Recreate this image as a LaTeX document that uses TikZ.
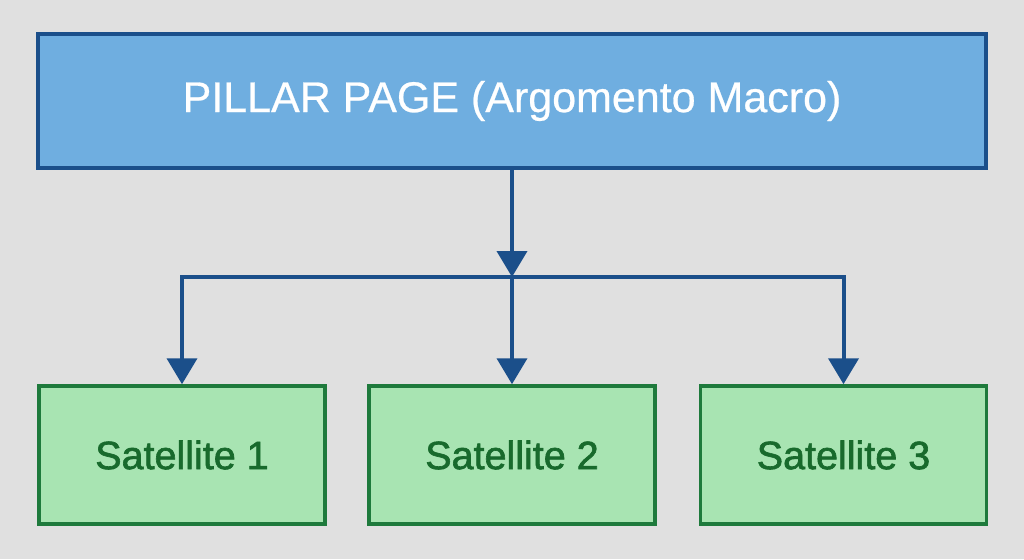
\documentclass[tikz,border=0pt]{standalone}
\usepackage{fontspec}
\setmainfont{Liberation Sans}
\newfontfamily\satfont[FakeBold=1.6]{Liberation Sans}
\newfontfamily\pilfont[FakeBold=0.6]{Liberation Sans}
\usetikzlibrary{arrows.meta}
\definecolor{bgc}{HTML}{E0E0E0}
\definecolor{pfill}{HTML}{6FAEE0}
\definecolor{pline}{HTML}{1B4F8A}
\definecolor{sfill}{HTML}{A8E4B2}
\definecolor{sline}{HTML}{1E7A3C}
\definecolor{stext}{HTML}{186A2C}
\tikzset{
  pillarbox/.style={draw=pline, fill=pfill, line width=4pt, minimum width=948pt, minimum height=134pt, inner sep=0pt, text=white, font=\pilfont\fontsize{43}{43}\selectfont},
  satbox/.style={draw=sline, fill=sfill, line width=3.5pt, minimum width=286pt, minimum height=138pt, inner sep=0pt, text=stext, font=\satfont\fontsize{39.5}{39.5}\selectfont},
  conn/.style={draw=pline, line width=4pt, -{Triangle[width=30pt,length=26pt]}},
}
\begin{document}
\begin{tikzpicture}[x=1pt,y=-1pt]
\fill[bgc] (0,0) rectangle (1024,559);
\useasboundingbox (0,0) rectangle (1024,559);
\node[pillarbox] (pillar) at (512,101) {PILLAR PAGE (Argomento Macro)};
\node[satbox] (s1) at (182,455) {Satellite 1};
\node[satbox] (s2) at (512,455) {Satellite 2};
\node[satbox] (s3) at (843.5,455) {Satellite 3};
\coordinate (jn) at (512,277);
\draw[conn] (pillar.south) -- (jn);
\draw[conn] (jn) -| (s1.north);
\draw[conn] (jn) -| (s3.north);
\draw[conn] (jn) -- (s2.north);
\end{tikzpicture}
\end{document}
